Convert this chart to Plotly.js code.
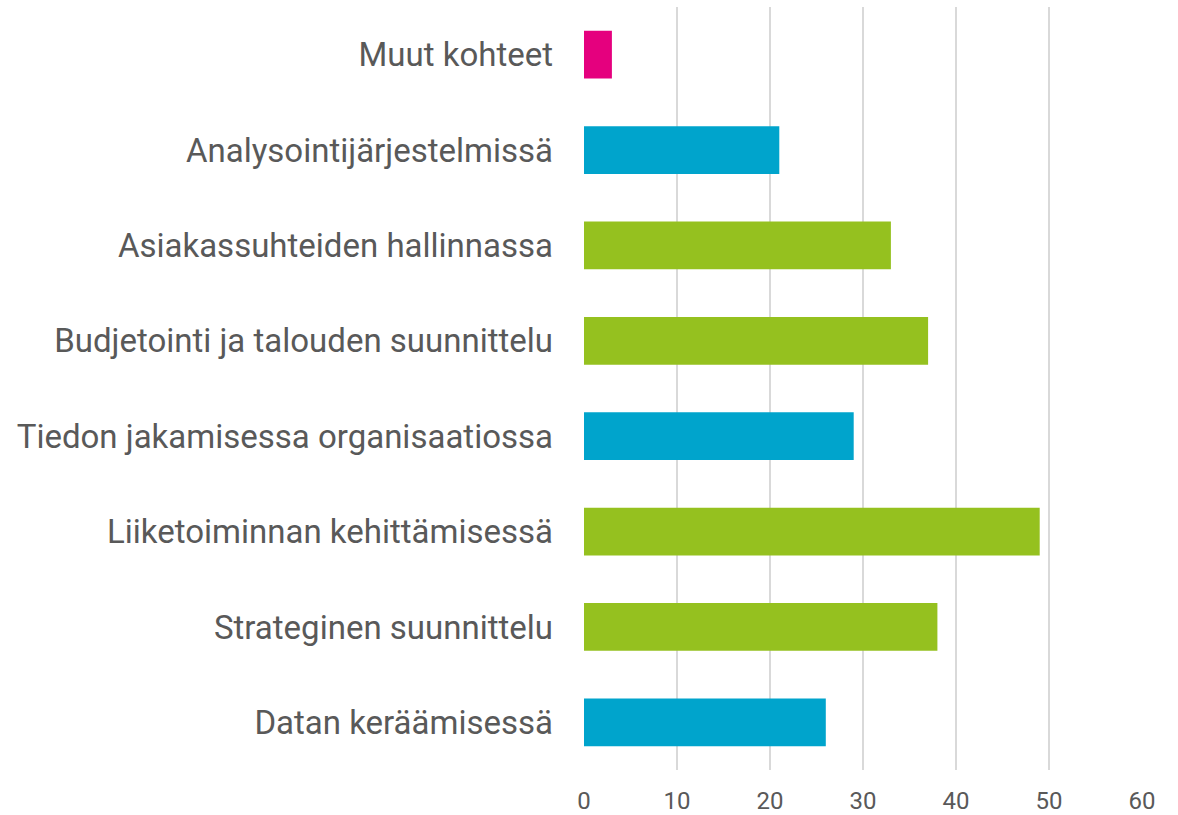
<!DOCTYPE html>
<html>
<head>
<meta charset="utf-8">
<script src="https://cdn.plot.ly/plotly-3.0.1.min.js"></script>
<style>html,body{margin:0;padding:0;background:#fff;}#chart{width:1178px;height:815px;}</style>
</head>
<body>
<div id="chart"></div>
<script>
const categories = [
  "Datan keräämisessä",
  "Strateginen suunnittelu",
  "Liiketoiminnan kehittämisessä",
  "Tiedon jakamisessa organisaatiossa",
  "Budjetointi ja talouden suunnittelu",
  "Asiakassuhteiden hallinnassa",
  "Analysointijärjestelmissä",
  "Muut kohteet"
];
const values = [26, 38, 49, 29, 37, 33, 21, 3];
const barColors = ["#00A4CC", "#95C11F", "#95C11F", "#00A4CC", "#95C11F", "#95C11F", "#00A4CC", "#E5007E"];
const xTicks = [0, 10, 20, 30, 40, 50, 60];

const trace = {
  type: "bar",
  orientation: "h",
  y: categories,
  x: values,
  marker: {color: barColors, line: {width: 0}},
  hoverinfo: "x+y"
};

const layout = {
  width: 1178,
  height: 815,
  margin: {l: 584, r: 36, t: 7, b: 45},
  paper_bgcolor: "#ffffff",
  plot_bgcolor: "#ffffff",
  bargap: 0.5,
  showlegend: false,
  font: {family: "Roboto, sans-serif", color: "#595959"},
  xaxis: {
    range: [0, 60],
    tickvals: xTicks,
    ticktext: xTicks.map(String),
    showgrid: true,
    gridcolor: "#D9D9D9",
    gridwidth: 2,
    zeroline: false,
    showline: false,
    ticks: "",
    tickfont: {size: 24, color: "#595959", family: "Roboto, sans-serif"},
    ticklabelstandoff: 14,
    fixedrange: true
  },
  yaxis: {
    type: "category",
    categoryorder: "array",
    categoryarray: categories,
    showgrid: false,
    zeroline: false,
    showline: false,
    ticks: "",
    tickfont: {size: 33, color: "#595959", family: "Roboto, sans-serif"},
    ticklabelstandoff: 30,
    automargin: false,
    fixedrange: true
  }
};

Plotly.newPlot("chart", [trace], layout, {displayModeBar: false, staticPlot: true});
</script>
</body>
</html>
